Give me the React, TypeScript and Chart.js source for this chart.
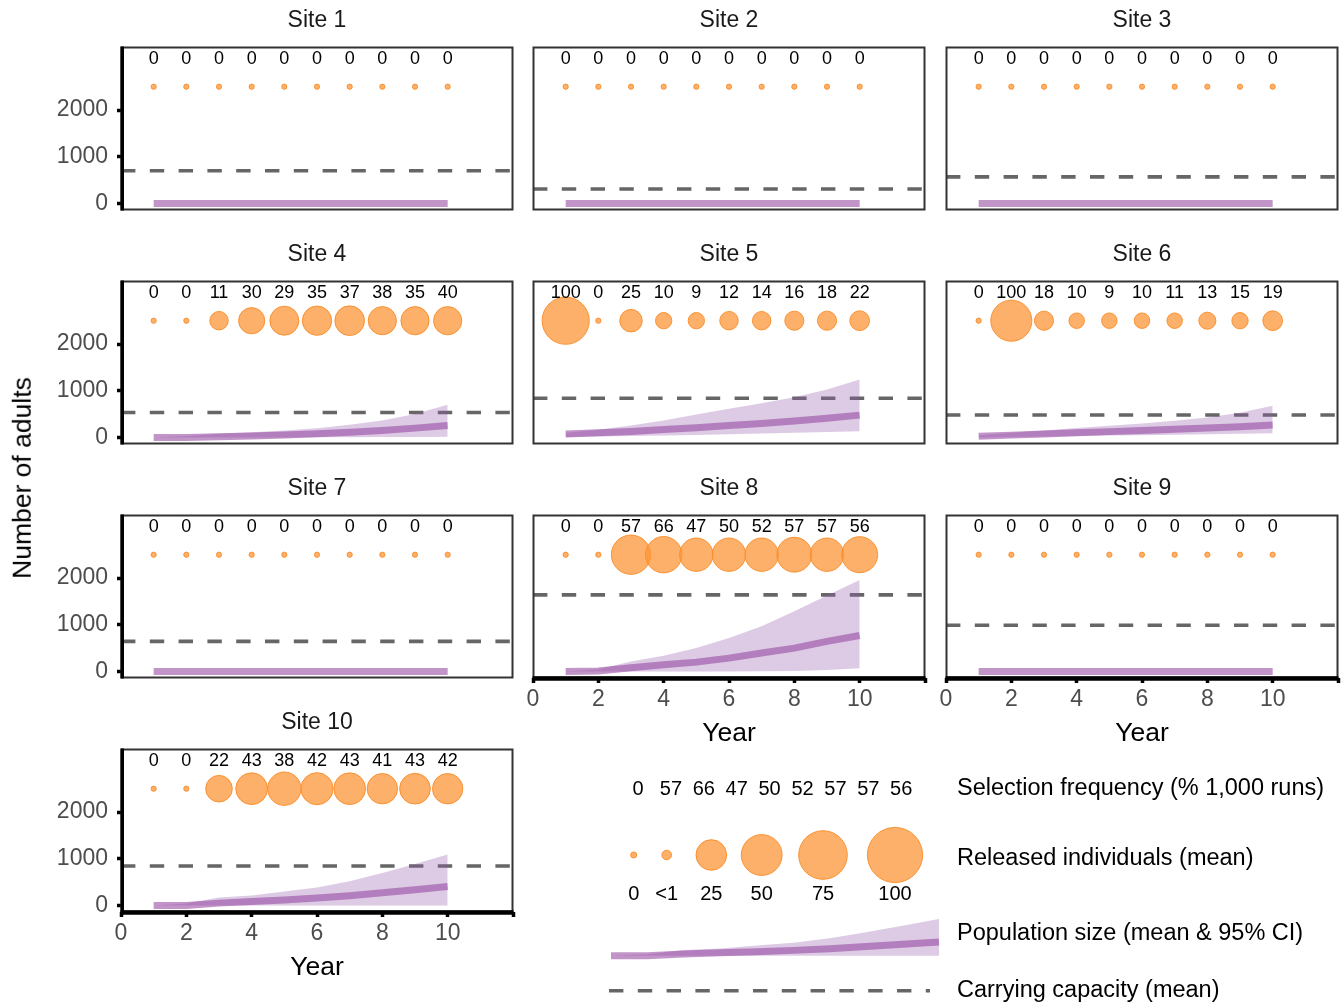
import React, { useEffect, useRef } from 'react';
import { Chart, registerables } from 'chart.js';

Chart.register(...registerables);

// ---------------- DATA ----------------
const YEARS = [1, 2, 3, 4, 5, 6, 7, 8, 9, 10];
const X_TICKS = [0, 2, 4, 6, 8, 10, 12];
const Y_TICKS = [0, 1000, 2000];
const SITE_NAMES = ['Site 1', 'Site 2', 'Site 3', 'Site 4', 'Site 5', 'Site 6', 'Site 7', 'Site 8', 'Site 9', 'Site 10'];

// Selection frequency (% of 1,000 runs)
const SEL_S1 = [0, 0, 0, 0, 0, 0, 0, 0, 0, 0];
const SEL_S2 = [0, 0, 0, 0, 0, 0, 0, 0, 0, 0];
const SEL_S3 = [0, 0, 0, 0, 0, 0, 0, 0, 0, 0];
const SEL_S4 = [0, 0, 11, 30, 29, 35, 37, 38, 35, 40];
const SEL_S5 = [100, 0, 25, 10, 9, 12, 14, 16, 18, 22];
const SEL_S6 = [0, 100, 18, 10, 9, 10, 11, 13, 15, 19];
const SEL_S7 = [0, 0, 0, 0, 0, 0, 0, 0, 0, 0];
const SEL_S8 = [0, 0, 57, 66, 47, 50, 52, 57, 57, 56];
const SEL_S9 = [0, 0, 0, 0, 0, 0, 0, 0, 0, 0];
const SEL_S10 = [0, 0, 22, 43, 38, 42, 43, 41, 43, 42];

// Released individuals (mean)
const REL_S1 = [0, 0, 0, 0, 0, 0, 0, 0, 0, 0];
const REL_S2 = [0, 0, 0, 0, 0, 0, 0, 0, 0, 0];
const REL_S3 = [0, 0, 0, 0, 0, 0, 0, 0, 0, 0];
const REL_S4 = [0, 0, 10, 25, 32, 33, 34, 30, 30, 30];
const REL_S5 = [100, 0, 17, 7, 7, 10, 10, 11, 11, 12];
const REL_S6 = [0, 73, 11, 6, 6, 6, 6, 8, 7, 12];
const REL_S7 = [0, 0, 0, 0, 0, 0, 0, 0, 0, 0];
const REL_S8 = [0, 0, 66, 55, 45, 45, 45, 50, 45, 54];
const REL_S9 = [0, 0, 0, 0, 0, 0, 0, 0, 0, 0];
const REL_S10 = [0, 0, 26, 40, 45, 41, 40, 36, 37, 36];

// Population size: mean, lower 95% CI, upper 95% CI
const ZERO10 = [0, 0, 0, 0, 0, 0, 0, 0, 0, 0];
const MEAN_S4 = [0, 0, 15, 30, 55, 80, 110, 150, 200, 255];
const UPPER_S4 = [0, 30, 78, 113, 149, 199, 270, 362, 504, 700];
const LOWER_S4 = [0, 0, 0, 0, 0, 5, 5, 10, 10, 15];
const MEAN_S5 = [75, 100, 130, 170, 210, 255, 300, 350, 410, 478];
const UPPER_S5 = [100, 165, 257, 364, 492, 615, 735, 863, 1028, 1240];
const LOWER_S5 = [10, 20, 30, 40, 55, 70, 85, 100, 115, 135];
const MEAN_S6 = [25, 50, 75, 100, 125, 150, 175, 200, 230, 265];
const UPPER_S6 = [50, 100, 150, 200, 250, 300, 360, 430, 530, 680];
const LOWER_S6 = [0, 10, 20, 30, 40, 50, 60, 70, 80, 90];
const MEAN_S8 = [0, 10, 80, 145, 200, 285, 395, 500, 645, 770];
const UPPER_S8 = [0, 50, 215, 337, 502, 717, 968, 1290, 1627, 1957];
const LOWER_S8 = [0, 0, 0, 0, 0, 0, 5, 10, 30, 70];
const MEAN_S10 = [0, 0, 50, 86, 115, 158, 208, 272, 337, 408];
const UPPER_S10 = [0, 40, 172, 215, 301, 387, 516, 695, 889, 1090];
const LOWER_S10 = [0, 0, 0, 0, 0, 0, 0, 0, 0, 0];

// Carrying capacity (mean)
const CARRYING_CAPACITY = [700, 310, 570, 535, 840, 480, 645, 1640, 990, 845];

// Legend
const LEGEND_SIZE_VALUES = [0, 0.5, 25, 50, 75, 100];
const LEGEND_SIZE_LABELS = ['0', '<1', '25', '50', '75', '100'];
const LEGEND_TEXTS = [
  'Selection frequency (% 1,000 runs)',
  'Released individuals (mean)',
  'Population size (mean & 95% CI)',
  'Carrying capacity (mean)',
];

const SITES = [
  { sel: SEL_S1, rel: REL_S1, mean: ZERO10, lo: ZERO10, hi: ZERO10 },
  { sel: SEL_S2, rel: REL_S2, mean: ZERO10, lo: ZERO10, hi: ZERO10 },
  { sel: SEL_S3, rel: REL_S3, mean: ZERO10, lo: ZERO10, hi: ZERO10 },
  { sel: SEL_S4, rel: REL_S4, mean: MEAN_S4, lo: LOWER_S4, hi: UPPER_S4 },
  { sel: SEL_S5, rel: REL_S5, mean: MEAN_S5, lo: LOWER_S5, hi: UPPER_S5 },
  { sel: SEL_S6, rel: REL_S6, mean: MEAN_S6, lo: LOWER_S6, hi: UPPER_S6 },
  { sel: SEL_S7, rel: REL_S7, mean: ZERO10, lo: ZERO10, hi: ZERO10 },
  { sel: SEL_S8, rel: REL_S8, mean: MEAN_S8, lo: LOWER_S8, hi: UPPER_S8 },
  { sel: SEL_S9, rel: REL_S9, mean: ZERO10, lo: ZERO10, hi: ZERO10 },
  { sel: SEL_S10, rel: REL_S10, mean: MEAN_S10, lo: LOWER_S10, hi: UPPER_S10 },
];

// ---------------- STYLE / LAYOUT ----------------
const FONT = '"Liberation Sans", Arial, Helvetica, sans-serif';
const BUBBLE_FILL = 'rgba(252,150,55,0.75)';
const BUBBLE_EDGE = 'rgba(250,140,40,0.9)';
const LINE_COLOR = 'rgba(148,69,160,0.57)';
const BAND_COLOR = 'rgba(150,90,170,0.32)';
const DASH_COLOR = '#666666';
const BUBBLE_Y = 2500;
const LABEL_Y = 3090;
const Y_MIN = -140;
const Y_MAX = 3350;
const X_MIN = 0;
const X_MAX = 12;
const SIZE_MIN = 2.6;
const SIZE_SPAN = 21;
const LEGEND_SIZE_SCALE = 1.17;

const COL_LEFT = [0, 412, 825];
const ROW_TOP = [0, 234, 468, 702];
const PANEL_W = 519;
const AXIS_W = 121;
const PAD_TOP = 47;

const radius = (v: number, k = 1) => k * (SIZE_MIN + SIZE_SPAN * Math.sqrt(v / 100));
const pts = (ys: number[]) => YEARS.map((x, i) => ({ x, y: ys[i] }));

function Panel({ idx }: { idx: number }) {
  const ref = useRef<HTMLCanvasElement>(null);
  const row = Math.floor(idx / 3);
  const col = idx % 3;
  const hasX = idx >= 7;
  const h = hasX ? 290 : 234;

  useEffect(() => {
    const site = SITES[idx];
    const K = CARRYING_CAPACITY[idx];
    const decor = {
      id: 'decor' + idx,
      afterDatasetsDraw(chart: any) {
        const { ctx, chartArea: a, scales } = chart;
        const xs = scales.x;
        const ys = scales.y;
        ctx.save();
        ctx.strokeStyle = '#333333';
        ctx.lineWidth = 2;
        ctx.strokeRect(a.left + 0.5, a.top + 0.5, a.right - a.left - 1, a.bottom - a.top - 1);
        ctx.strokeStyle = '#000000';
        if (col === 0) {
          ctx.lineWidth = 3.5;
          ctx.beginPath();
          ctx.moveTo(a.left + 1.25, a.top - 0.5);
          ctx.lineTo(a.left + 1.25, a.bottom + (hasX ? 2.5 : 0.5));
          ctx.stroke();
        }
        if (hasX) {
          ctx.lineWidth = 4.5;
          ctx.beginPath();
          ctx.moveTo(a.left - 0.5, a.bottom + 0.5);
          ctx.lineTo(a.right + 0.5, a.bottom + 0.5);
          ctx.stroke();
        }
        // title
        ctx.fillStyle = '#1a1a1a';
        ctx.font = `23px ${FONT}`;
        ctx.textAlign = 'center';
        ctx.textBaseline = 'middle';
        ctx.fillText(SITE_NAMES[idx], (a.left + a.right) / 2, a.top - 26.5);
        // selection frequency labels
        ctx.fillStyle = '#000000';
        ctx.font = `18px ${FONT}`;
        YEARS.forEach((yr, i) => {
          ctx.fillText(String(site.sel[i]), xs.getPixelForValue(yr), ys.getPixelForValue(LABEL_Y));
        });
        ctx.restore();
      },
    };

    const chart = new Chart(ref.current as HTMLCanvasElement, {
      type: 'line',
      data: {
        datasets: [
          {
            type: 'bubble',
            data: YEARS.map((x, i) => ({ x, y: BUBBLE_Y, r: radius(site.rel[i]) })),
            backgroundColor: BUBBLE_FILL,
            borderColor: BUBBLE_EDGE,
            borderWidth: 1,
            order: 0,
          } as any,
          {
            data: pts(site.mean),
            borderColor: LINE_COLOR,
            borderWidth: 7,
            pointRadius: 0,
            fill: false,
            tension: 0,
            order: 1,
          },
          {
            data: pts(site.hi),
            borderColor: 'transparent',
            borderWidth: 0,
            backgroundColor: BAND_COLOR,
            pointRadius: 0,
            fill: '+1',
            tension: 0,
            order: 2,
          },
          {
            data: pts(site.lo),
            borderColor: 'transparent',
            borderWidth: 0,
            pointRadius: 0,
            fill: false,
            tension: 0,
            order: 3,
          },
          {
            data: [{ x: X_MIN, y: K }, { x: X_MAX, y: K }],
            borderColor: DASH_COLOR,
            borderWidth: 3.6,
            borderDash: [14.4, 14.4],
            pointRadius: 0,
            fill: false,
            order: 4,
          },
        ],
      },
      options: {
        responsive: false,
        animation: false,
        devicePixelRatio: 1,
        events: [],
        layout: { autoPadding: false, padding: { top: PAD_TOP, left: 0, right: 6, bottom: hasX ? 0 : 24 } },
        plugins: { legend: { display: false }, tooltip: { enabled: false } },
        scales: {
          x: {
            type: 'linear',
            min: X_MIN,
            max: X_MAX,
            display: hasX,
            afterBuildTicks: (s: any) => { s.ticks = X_TICKS.map((v) => ({ value: v })); },
            afterFit: (s: any) => { if (hasX) s.height = 80; },
            border: { display: false },
            grid: { display: true, drawOnChartArea: false, drawTicks: true, tickLength: 5, tickWidth: 3.5, tickColor: '#000000' },
            ticks: {
              color: '#4d4d4d',
              font: { family: FONT, size: 23 },
              padding: 3,
              maxRotation: 0,
              autoSkip: false,
              callback: (v: any) => (v === X_MAX ? '' : String(v)),
            },
            title: { display: true, text: 'Year', color: '#000000', font: { family: FONT, size: 26.5 }, padding: { top: 0, bottom: 8 } },
          },
          y: {
            type: 'linear',
            min: Y_MIN,
            max: Y_MAX,
            afterBuildTicks: (s: any) => { s.ticks = Y_TICKS.map((v) => ({ value: v })); },
            afterFit: (s: any) => { s.width = AXIS_W; },
            border: { display: false },
            grid: { display: col === 0, drawOnChartArea: false, drawTicks: true, tickLength: 4, tickWidth: 3.5, tickColor: '#000000' },
            ticks: {
              display: col === 0,
              color: '#4d4d4d',
              font: { family: FONT, size: 23 },
              padding: 9,
              autoSkip: false,
              callback: (v: any) => String(v),
            },
          },
        },
      } as any,
      plugins: [decor],
    });
    return () => chart.destroy();
  }, []);

  return (
    <canvas
      ref={ref}
      width={PANEL_W}
      height={h}
      style={{ position: 'absolute', left: COL_LEFT[col], top: ROW_TOP[row], width: PANEL_W, height: h }}
    />
  );
}

// Legend layout (pixels within the legend canvas)
const LEG_LEFT = 600;
const LEG_TOP = 760;
const LEG_W = 744;
const LEG_H = 245;
const LEG_FREQ_X0 = 38;
const LEG_FREQ_DX = 32.9;
const LEG_FREQ_Y = 29;
const LEG_KEY_X = [33.7, 66.7, 111.3, 161.7, 223, 295];
const LEG_KEY_Y = 95;
const LEG_KEY_LABEL_Y = 134;
const LEG_TEXT_X = 357;
const LEG_TEXT_Y = [29, 99, 174, 231];
const LEG_DASH = { x0: 9, x1: 330, y: 230.7 };
// band key: year 1 -> 11px, 36.44 px per year; 0 -> 195.7px, 33.7 px per 1000
const BAND_X_MIN = 1 - 11 / 36.44;
const BAND_X_MAX = BAND_X_MIN + LEG_W / 36.44;
const BAND_Y_MAX = 195.7 / 0.0337;
const BAND_Y_MIN = -(LEG_H - 195.7) / 0.0337;

function Legend() {
  const ref = useRef<HTMLCanvasElement>(null);
  useEffect(() => {
    const keySel = SEL_S8.slice(1);
    const decor = {
      id: 'legendDecor',
      afterDatasetsDraw(chart: any) {
        const { ctx } = chart;
        ctx.save();
        ctx.fillStyle = '#000000';
        ctx.textBaseline = 'middle';
        ctx.textAlign = 'center';
        ctx.font = `20px ${FONT}`;
        keySel.forEach((v, i) => ctx.fillText(String(v), LEG_FREQ_X0 + i * LEG_FREQ_DX, LEG_FREQ_Y));
        LEGEND_SIZE_LABELS.forEach((t, i) => ctx.fillText(t, LEG_KEY_X[i], LEG_KEY_LABEL_Y));
        ctx.textAlign = 'left';
        ctx.font = `23.5px ${FONT}`;
        LEGEND_TEXTS.forEach((t, i) => ctx.fillText(t, LEG_TEXT_X, LEG_TEXT_Y[i]));
        ctx.restore();
      },
    };
    const bandPts = (ys: number[]) => YEARS.map((x, i) => ({ x, y: ys[i] }));
    const chart = new Chart(ref.current as HTMLCanvasElement, {
      type: 'line',
      data: {
        datasets: [
          {
            type: 'bubble',
            data: LEGEND_SIZE_VALUES.map((v, i) => ({ x: LEG_KEY_X[i], y: LEG_KEY_Y, r: radius(v, LEGEND_SIZE_SCALE) })),
            backgroundColor: BUBBLE_FILL,
            borderColor: BUBBLE_EDGE,
            borderWidth: 1,
            xAxisID: 'x',
            yAxisID: 'y',
            order: 0,
          } as any,
          {
            data: bandPts(MEAN_S10),
            borderColor: LINE_COLOR,
            borderWidth: 7,
            pointRadius: 0,
            fill: false,
            xAxisID: 'x2',
            yAxisID: 'y2',
            order: 1,
          },
          {
            data: bandPts(UPPER_S10),
            borderColor: 'transparent',
            borderWidth: 0,
            backgroundColor: BAND_COLOR,
            pointRadius: 0,
            fill: '+1',
            xAxisID: 'x2',
            yAxisID: 'y2',
            order: 2,
          },
          {
            data: bandPts(LOWER_S10),
            borderColor: 'transparent',
            borderWidth: 0,
            pointRadius: 0,
            fill: false,
            xAxisID: 'x2',
            yAxisID: 'y2',
            order: 3,
          },
          {
            data: [{ x: LEG_DASH.x0, y: LEG_DASH.y }, { x: LEG_DASH.x1, y: LEG_DASH.y }],
            borderColor: DASH_COLOR,
            borderWidth: 3.6,
            borderDash: [14.4, 14.4],
            pointRadius: 0,
            fill: false,
            xAxisID: 'x',
            yAxisID: 'y',
            order: 4,
          },
        ],
      },
      options: {
        responsive: false,
        animation: false,
        devicePixelRatio: 1,
        events: [],
        layout: { autoPadding: false, padding: 0 },
        plugins: { legend: { display: false }, tooltip: { enabled: false } },
        scales: {
          x: { type: 'linear', min: 0, max: LEG_W, display: false },
          y: { type: 'linear', min: 0, max: LEG_H, reverse: true, display: false },
          x2: { type: 'linear', axis: 'x', min: BAND_X_MIN, max: BAND_X_MAX, display: false },
          y2: { type: 'linear', axis: 'y', min: BAND_Y_MIN, max: BAND_Y_MAX, display: false },
        },
      } as any,
      plugins: [decor],
    });
    return () => chart.destroy();
  }, []);
  return (
    <canvas
      ref={ref}
      width={LEG_W}
      height={LEG_H}
      style={{ position: 'absolute', left: LEG_LEFT, top: LEG_TOP, width: LEG_W, height: LEG_H }}
    />
  );
}

export default function App() {
  useEffect(() => {
    document.body.style.margin = '0';
    document.body.style.background = '#ffffff';
  }, []);
  return (
    <div style={{ position: 'relative', width: 1344, height: 1005, background: '#ffffff', overflow: 'hidden' }}>
      {SITE_NAMES.map((_, i) => (
        <Panel key={i} idx={i} />
      ))}
      <Legend />
      <div
        style={{
          position: 'absolute',
          left: 22,
          top: 478,
          transform: 'translate(-50%, -50%) rotate(-90deg)',
          fontFamily: FONT,
          fontSize: 26.5,
          color: '#000000',
          whiteSpace: 'nowrap',
          lineHeight: 1,
        }}
      >
        Number of adults
      </div>
    </div>
  );
}
